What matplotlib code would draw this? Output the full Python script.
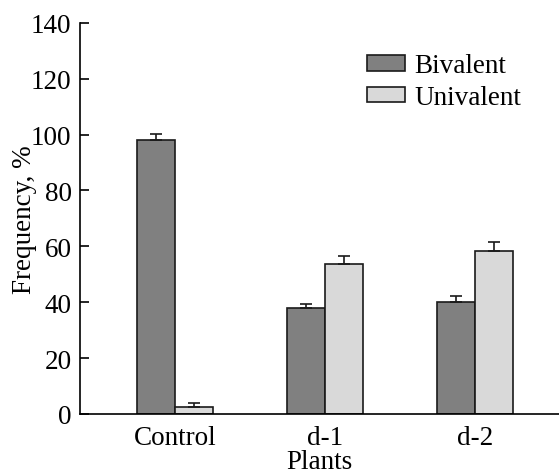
import matplotlib.pyplot as plt
import numpy as np

plt.rcParams['font.family'] = ['Liberation Serif', 'DejaVu Serif']

plants = ['Control', 'd-1', 'd-2']
bivalent = [97.9, 38.1, 40.2]
bivalent_err = [2.3, 1.3, 1.9]
univalent = [2.6, 53.8, 58.5]
univalent_err = [1.2, 2.9, 3.2]

x = np.arange(len(plants))
w = 0.253
fs = 19.5

fig = plt.figure(figsize=(5.59, 4.77), dpi=100)
ax = fig.add_axes([0.143, 0.130, 0.857, 0.820])

ax.bar(x - w/2, bivalent, w, color='#808080', edgecolor='#1a1a1a', linewidth=1.2,
       label='Bivalent', yerr=[np.zeros(3), bivalent_err], capsize=4,
       error_kw=dict(elinewidth=1.2, capthick=1.2, ecolor='#1a1a1a'))
ax.bar(x + w/2, univalent, w, color='#d9d9d9', edgecolor='#1a1a1a', linewidth=1.2,
       label='Univalent', yerr=[np.zeros(3), univalent_err], capsize=4,
       error_kw=dict(elinewidth=1.2, capthick=1.2, ecolor='#1a1a1a'))

ax.set_xlim(-0.633, 2.56)
ax.set_ylim(0, 140)
ax.set_yticks(range(0, 141, 20))
ax.set_xticks(x)
ax.set_xticklabels(plants)
ax.tick_params(axis='y', direction='in', length=6.5, width=1.2, labelsize=fs, pad=6)
ax.tick_params(axis='x', length=0, labelsize=fs, pad=8)
for s in ['top', 'right']:
    ax.spines[s].set_visible(False)
for s in ['left', 'bottom']:
    ax.spines[s].set_linewidth(1.2)

ax.set_xlabel('Plants', fontsize=fs, labelpad=-1)
ax.set_ylabel('Frequency, %', fontsize=fs, labelpad=-4)

ax.legend(loc='upper left', bbox_to_anchor=(0.599, 0.922), frameon=False, fontsize=fs,
          borderpad=0, borderaxespad=0,
          handlelength=1.4, handleheight=0.52, handletextpad=0.35, labelspacing=0.25)

fig.savefig('out.png')
